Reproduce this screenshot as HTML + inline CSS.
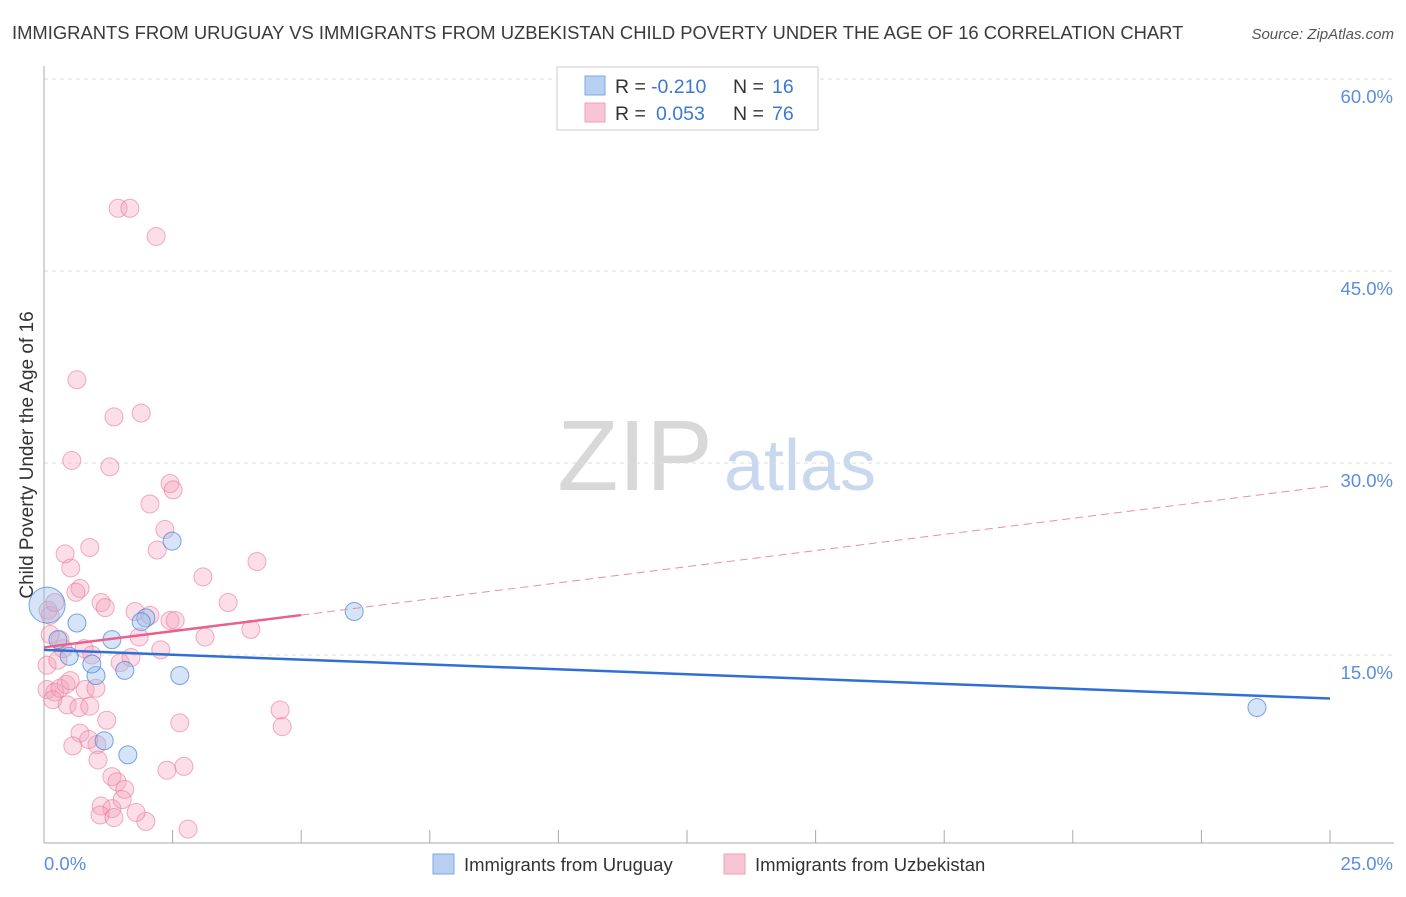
<!DOCTYPE html>
<html><head><meta charset="utf-8"><style>
body{margin:0;background:#fff;font-family:"Liberation Sans",sans-serif;}
svg text{font-family:"Liberation Sans",sans-serif;}
</style></head><body>
<svg id="chart" width="1406" height="892" xmlns="http://www.w3.org/2000/svg">
<text x="12" y="39" font-size="18.4" fill="#3a3a3a">IMMIGRANTS FROM URUGUAY VS IMMIGRANTS FROM UZBEKISTAN CHILD POVERTY UNDER THE AGE OF 16 CORRELATION CHART</text>
<text x="1394" y="39" font-size="15" fill="#555" text-anchor="end" font-style="italic">Source: ZipAtlas.com</text>
<text transform="translate(33,455) rotate(-90)" font-size="19" fill="#333" text-anchor="middle">Child Poverty Under the Age of 16</text>
<g>
<text x="635" y="490" font-size="100" fill="#d8d8d8" font-family="Liberation Serif" text-anchor="middle">ZIP</text>
<text x="800" y="490" font-size="72" fill="#c8d8ef" text-anchor="middle">atlas</text>
</g>
<g id="grid"></g><g id="axes"></g><g id="pts"></g><g id="trend"></g>
<g>
<rect x="557" y="67" width="261" height="63" fill="#fff" stroke="#ccc"/>
<rect x="585" y="76" width="20" height="19" fill="#b7d0f2" stroke="#7fa6df"/>
<rect x="585" y="103" width="20" height="19" fill="#f9c5d4" stroke="#eea0b8"/>
<text x="615" y="93" font-size="19.5" fill="#333">R =</text>
<text x="651" y="93" font-size="19.5" fill="#3b78d4">-0.210</text>
<text x="733" y="93" font-size="19.5" fill="#333">N =</text>
<text x="772" y="93" font-size="19.5" fill="#3b78d4">16</text>
<text x="615" y="120" font-size="19.5" fill="#333">R =</text>
<text x="656" y="120" font-size="19.5" fill="#3b78d4">0.053</text>
<text x="733" y="120" font-size="19.5" fill="#333">N =</text>
<text x="772" y="120" font-size="19.5" fill="#3b78d4">76</text>
</g>
<g>
<rect x="433" y="854" width="21" height="20" fill="#b7d0f2" stroke="#7fa6df"/>
<text x="464" y="871" font-size="18.5" fill="#333">Immigrants from Uruguay</text>
<rect x="724" y="854" width="21" height="20" fill="#f9c5d4" stroke="#eea0b8"/>
<text x="755" y="871" font-size="18.5" fill="#333">Immigrants from Uzbekistan</text>
</g>
</svg>
<script>
const yTicks=[15,30,45,60];
const yTickLabels=["15.0%","30.0%","45.0%","60.0%"];
const xTickLabels=["0.0%","25.0%"];
const uruguayX=[0.06,0.27,0.64,1.32,1.98,1.89,2.49,6.03,0.49,1.01,1.57,2.64,1.17,1.63,23.58,0.93];
const uruguayY=[18.9,16.2,17.5,16.2,17.9,17.6,23.9,18.4,14.9,13.4,13.8,13.4,8.3,7.2,10.9,14.3];
const uzbekX=[1.44,1.67,2.18,0.64,1.36,1.89,0.54,1.28,2.45,2.51,2.06,2.35,2.20,0.89,0.41,0.52,3.09,4.14,0.70,0.62,1.11,1.19,3.58,2.45,2.55,1.85,3.13,4.02,2.27,0.78,0.93,0.37,0.06,0.27,1.48,1.69,0.06,0.21,0.31,0.43,0.51,0.80,1.01,0.45,0.68,0.89,0.17,1.22,0.70,1.03,0.56,0.87,1.05,2.64,4.59,4.63,1.32,1.42,2.39,2.72,1.32,1.57,1.11,1.52,1.09,1.36,1.98,1.79,2.80,0.12,0.08,0.21,0.31,1.77,2.06,0.12];
const uzbekY=[49.9,49.9,47.7,36.5,33.6,33.9,30.2,29.7,28.4,27.9,26.8,24.8,23.2,23.4,22.9,21.8,21.1,22.3,20.2,19.9,19.1,18.7,19.1,17.7,17.7,16.4,16.4,17.0,15.4,15.5,15.0,15.5,14.2,14.6,14.4,14.8,12.3,12.1,12.4,12.7,13.0,12.3,12.4,11.1,10.9,11.0,11.5,9.9,8.9,8.0,7.9,8.4,6.8,9.7,10.7,9.4,5.5,5.1,6.0,6.3,3.0,4.5,3.2,3.7,2.5,2.3,2.0,2.7,1.4,18.1,18.5,19.1,16.2,18.4,18.1,16.6];
const uruguayTrend=[15.4,11.6];
const uzbekTrend=[15.6,28.2];
const NS="http://www.w3.org/2000/svg";
const xs=v=>44+v*51.44, ys=v=>847-v*12.8;
function mk(tag,attrs,parent){const e=document.createElementNS(NS,tag);for(const k in attrs)e.setAttribute(k,attrs[k]);document.getElementById(parent).appendChild(e);return e;}
yTicks.forEach((t,i)=>{
  const l=mk('line',{x1:44,x2:1394,y1:ys(t),y2:ys(t),stroke:'#ddd','stroke-dasharray':'4,4'},'grid');
  
  
  const tx=mk('text',{x:1393,y:ys(t)+24,'font-size':18.5,fill:'#5a8de0','text-anchor':'end'},'grid');
  tx.textContent=yTickLabels[i];
  
  
});
const ax=mk('line',{x1:44,x2:44,y1:66,y2:843,stroke:'#aaa'},'axes');


const bx=mk('line',{x1:44,x2:1394,y1:843,y2:843,stroke:'#aaa'},'axes');


for(let i=0;i<=10;i++){const t=mk('line',{x1:xs(i*2.5),x2:xs(i*2.5),y1:830,y2:843,stroke:'#aaa'},'axes');

}
const l0=mk('text',{x:44,y:870,'font-size':18.5,fill:'#5a8de0'},'axes');l0.textContent=xTickLabels[0];


const l1=mk('text',{x:1393,y:870,'font-size':18.5,fill:'#5a8de0','text-anchor':'end'},'axes');l1.textContent=xTickLabels[1];


uzbekX.forEach((x,i)=>{const c=mk('circle',{cx:xs(x),cy:ys(uzbekY[i]),r:9,fill:'rgba(244,160,186,0.35)',stroke:'rgba(232,120,155,0.6)'},'pts');

});
uruguayX.forEach((x,i)=>{const c=mk('circle',{cx:xs(x),cy:ys(uruguayY[i]),r:i===0?18:9,fill:'rgba(150,188,236,0.4)',stroke:'rgba(70,130,215,0.7)'},'pts');

});
const bt=mk('line',{x1:xs(0),y1:ys(uruguayTrend[0]),x2:xs(25),y2:ys(uruguayTrend[1]),stroke:'#2f6fd6','stroke-width':2.5},'trend');


const f=v=>uzbekTrend[0]+(uzbekTrend[1]-uzbekTrend[0])*v/25;
const pt=mk('line',{x1:xs(0),y1:ys(f(0)),x2:xs(5),y2:ys(f(5)),stroke:'#e8608c','stroke-width':2.5},'trend');


const pd=mk('line',{x1:xs(5),y1:ys(f(5)),x2:xs(25),y2:ys(f(25)),stroke:'#e8909f','stroke-width':1,'stroke-dasharray':'8,5'},'trend');


</script>
</body></html>
